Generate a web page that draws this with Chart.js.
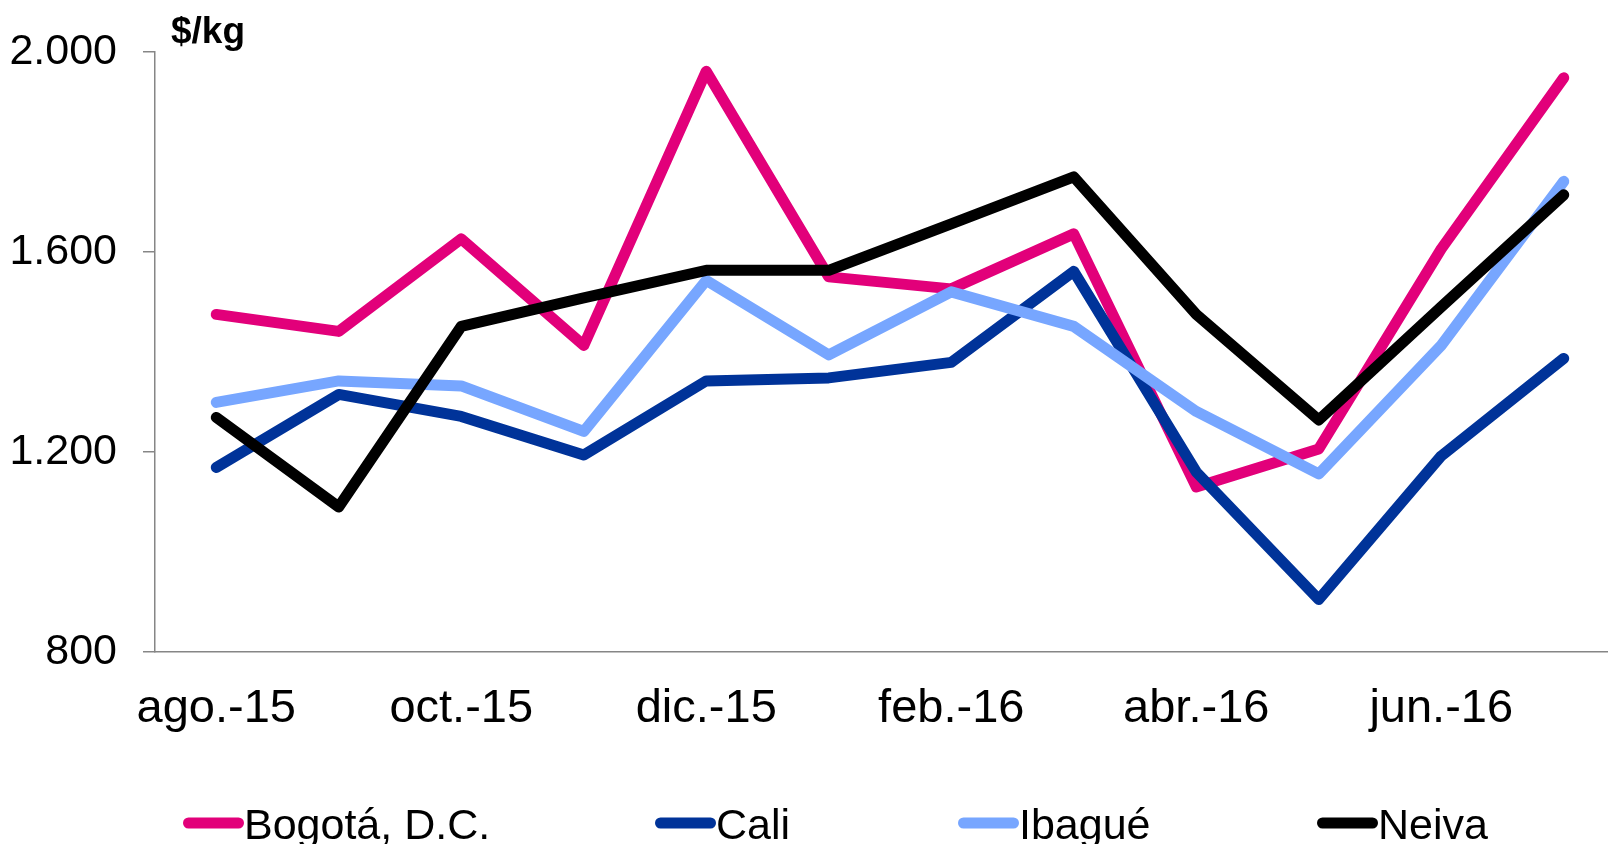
<!DOCTYPE html>
<html>
<head>
<meta charset="utf-8">
<script src="https://cdn.jsdelivr.net/npm/chart.js@4"></script>
<style>
  html, body { margin: 0; padding: 0; background: #fff; overflow: hidden; }
  #wrap { position: absolute; left: 0; top: 0; width: 1625px; height: 844px; }
</style>
</head>
<body>
<div id="wrap"><canvas id="chart-precios"></canvas></div>
<script>
const meses = ['ago.-15', 'sep.-15', 'oct.-15', 'nov.-15', 'dic.-15', 'ene.-16', 'feb.-16', 'mar.-16', 'abr.-16', 'may.-16', 'jun.-16', 'jul.-16'];
const bogota = [1475, 1441, 1626, 1413, 1961, 1550, 1526, 1636, 1130, 1206, 1606, 1948];
const cali = [1169, 1315, 1271, 1194, 1342, 1348, 1379, 1561, 1160, 905, 1192, 1387];
const ibague = [1299, 1342, 1332, 1241, 1543, 1394, 1520, 1451, 1281, 1156, 1413, 1741];
const neiva = [1269, 1090, 1451, 1508, 1563, 1563, 1656, 1750, 1475, 1264, 1490, 1714];
const yTicks = [800, 1200, 1600, 2000];
const unidad = '$/kg';

document.addEventListener("DOMContentLoaded", () => {
  const fontFam = '"Liberation Sans", Arial, sans-serif';
  const grey = '#868686';

  // legend x start of each item (sample line), text follows it
  const legendX = [183, 655, 958, 1317];

  const overlay = {
    id: 'overlay',
    afterDraw(chart) {
      const ctx = chart.ctx;
      ctx.save();
      ctx.fillStyle = '#000';
      ctx.textBaseline = 'alphabetic';
      ctx.textAlign = 'left';
      ctx.font = 'bold 37px ' + fontFam;
      ctx.fillText(unidad, chart.chartArea.left + 16, 43);

      chart.data.datasets.forEach((ds, i) => {
        const x = legendX[i];
        ctx.strokeStyle = ds.borderColor;
        ctx.lineWidth = 11;
        ctx.lineCap = 'round';
        ctx.beginPath();
        ctx.moveTo(x + 5.5, 823);
        ctx.lineTo(x + 55.5, 823);
        ctx.stroke();
        ctx.fillStyle = '#000';
        ctx.font = '43px ' + fontFam;
        ctx.fillText(ds.label, x + 61, 839);
      });
      ctx.restore();
    }
  };

  const mkLine = (label, data, color, order) => ({
    label: label,
    data: data,
    borderColor: color,
    backgroundColor: color,
    borderWidth: 11,
    borderCapStyle: 'round',
    borderJoinStyle: 'round',
    pointRadius: 0,
    tension: 0,
    order: order
  });

  const config = {
    type: 'line',
    data: {
      labels: meses,
      datasets: [
        mkLine('Bogotá, D.C.', bogota, '#E2007A', 4),
        mkLine('Cali', cali, '#003399', 3),
        mkLine('Ibagué', ibague, '#77A6FF', 2),
        mkLine('Neiva', neiva, '#000000', 1)
      ]
    },
    options: {
      responsive: true,
      maintainAspectRatio: false,
      animation: false,
      layout: { padding: { top: 48, right: 0, bottom: 0, left: 0 } },
      plugins: {
        legend: { display: false },
        tooltip: { enabled: false }
      },
      scales: {
        x: {
          offset: true,
          grid: { display: false, drawTicks: false },
          border: { display: true, color: grey, width: 1.5 },
          ticks: {
            autoSkip: false,
            maxRotation: 0,
            padding: 29,
            color: '#000',
            font: { family: fontFam, size: 47 },
            callback: function (val, idx) {
              return idx % 2 === 0 ? this.getLabelForValue(val) : '';
            }
          },
          afterFit: (scale) => { scale.height = 844 - 652; }
        },
        y: {
          min: 800,
          max: 2000,
          afterBuildTicks: (scale) => { scale.ticks = yTicks.map(v => ({ value: v })); },
          grid: { drawOnChartArea: false, drawTicks: true, tickLength: 12, color: grey, lineWidth: 1.5 },
          border: { display: true, color: grey, width: 1.5 },
          ticks: {
            padding: 26,
            color: '#000',
            font: { family: fontFam, size: 43 },
            callback: (v) => String(v).replace(/\B(?=(\d{3})+(?!\d))/g, '.')
          },
          afterFit: (scale) => { scale.width = 155; }
        }
      }
    },
    plugins: [overlay]
  };

  new Chart(document.getElementById('chart-precios'), config);
});
</script>
</body>
</html>
